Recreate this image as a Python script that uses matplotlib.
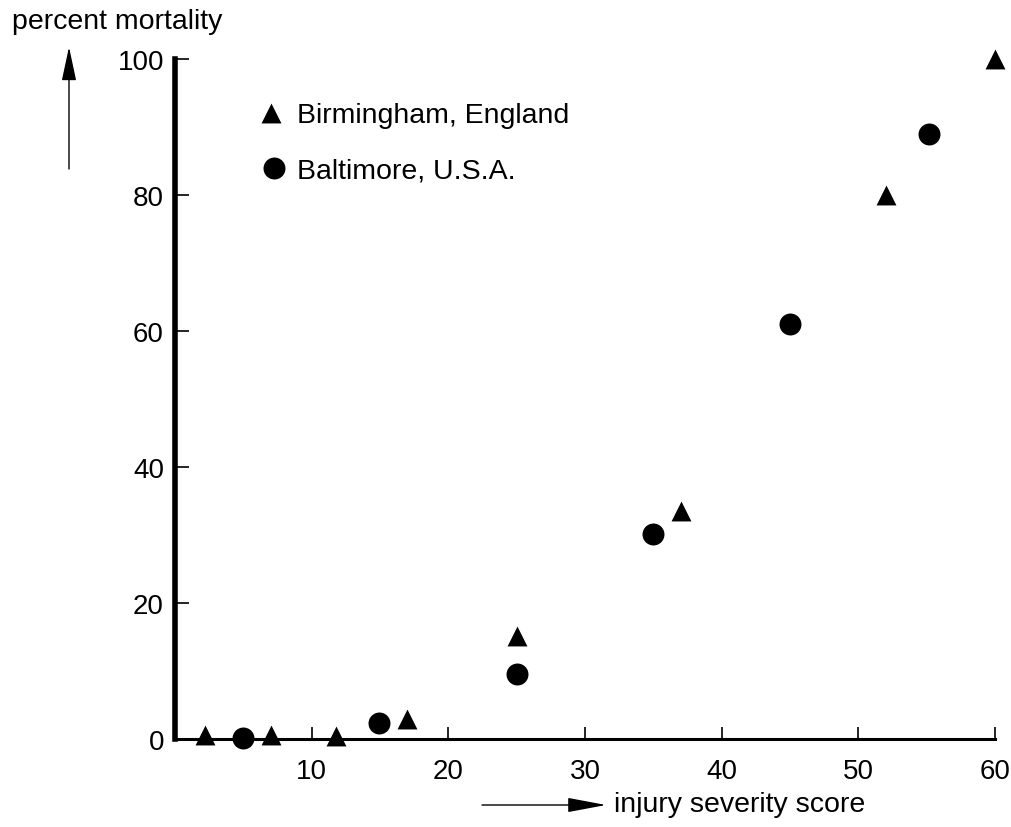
import matplotlib
matplotlib.use("Agg")
import matplotlib.pyplot as plt
from matplotlib.patches import FancyArrowPatch

plt.rcParams['font.family'] = ['Liberation Sans', 'DejaVu Sans']

# Data
birm_x = [2.2, 7.0, 11.8, 17.0, 25.0, 37.0, 52.0, 60.0]
birm_y = [0.6, 0.6, 0.5, 3.0, 15.2, 33.5, 80.0, 100.0]
balt_x = [5.0, 14.9, 25.0, 35.0, 45.0, 55.2]
balt_y = [0.1, 2.4, 9.6, 30.2, 61.0, 89.0]
x_ticks = [10, 20, 30, 40, 50, 60]
y_ticks = [0, 20, 40, 60, 80, 100]

W, H = 1011, 828
fig = plt.figure(figsize=(W/100, H/100), dpi=100)
ax = fig.add_axes([175/W, (H-740)/H, (995-175)/W, (740-60)/H])
ax.set_xlim(0, 60)
ax.set_ylim(0, 100)

TRI_S = 205
CIR_S = 250
ax.scatter(birm_x, birm_y, marker='^', s=TRI_S, color='black', clip_on=False, zorder=3, linewidths=0)
ax.scatter(balt_x, balt_y, marker='o', s=CIR_S, color='black', clip_on=False, zorder=3, linewidths=0)

for s in ['top', 'right']:
    ax.spines[s].set_visible(False)
ax.spines['left'].set_linewidth(4)
ax.spines['bottom'].set_linewidth(2.2)

ax.set_xticks(x_ticks)
ax.set_yticks(y_ticks)
ax.tick_params(axis='both', direction='in', labelsize=20, width=1.2, color='black')
ax.tick_params(axis='y', length=10, pad=8)
ax.tick_params(axis='x', length=9, pad=14)

# Legend (manual)
ax.scatter([7.0], [92.0], marker='^', s=TRI_S, color='black', clip_on=False, linewidths=0)
ax.text(8.9, 91.8, 'Birmingham, England', fontsize=20.5, va='center', ha='left')
ax.scatter([7.25], [84.0], marker='o', s=CIR_S, color='black', clip_on=False, linewidths=0)
ax.text(8.9, 83.6, 'Baltimore, U.S.A.', fontsize=20.5, va='center', ha='left')

# Axis labels with arrows
fig.text(117/W, 1 - 22/H, 'percent mortality', fontsize=20.5, ha='center', va='center')
fig.text(614/W, 1 - 805/H, 'injury severity score', fontsize=20.5, ha='left', va='center')
fig.patches.append(FancyArrowPatch(
    (69/W, 1 - 170/H), (69/W, 1 - 48/H), transform=fig.transFigure,
    arrowstyle='-|>,head_length=21,head_width=4.5', mutation_scale=1, lw=1.0,
    color='black', shrinkA=0, shrinkB=0))
fig.patches.append(FancyArrowPatch(
    (482/W, 1 - 806/H), (606/W, 1 - 806/H), transform=fig.transFigure,
    arrowstyle='-|>,head_length=24,head_width=4.5', mutation_scale=1, lw=1.0,
    color='black', shrinkA=0, shrinkB=0))

fig.savefig('out.png', dpi=100)
